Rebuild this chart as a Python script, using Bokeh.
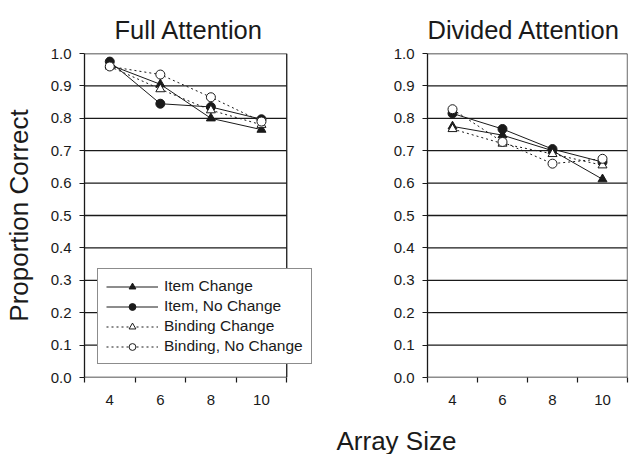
from bokeh.plotting import figure
from bokeh.models import (Range1d, FixedTicker, PrintfTickFormatter, Legend, LegendItem, Label)
from bokeh.layouts import row, column
from bokeh.embed import file_html
from bokeh.resources import INLINE

# ---- data ----
array_sizes = [4, 6, 8, 10]
y_ticks = [0.0, 0.1, 0.2, 0.3, 0.4, 0.5, 0.6, 0.7, 0.8, 0.9, 1.0]

full_item_change = [0.965, 0.905, 0.800, 0.765]
full_item_nochange = [0.975, 0.845, 0.835, 0.797]
full_bind_change = [0.960, 0.890, 0.825, 0.780]
full_bind_nochange = [0.960, 0.935, 0.865, 0.790]

div_item_change = [0.775, 0.748, 0.700, 0.612]
div_item_nochange = [0.815, 0.767, 0.705, 0.665]
div_bind_change = [0.767, 0.722, 0.690, 0.655]
div_bind_nochange = [0.828, 0.727, 0.660, 0.675]

series_labels = ["Item Change", "Item, No Change", "Binding Change", "Binding, No Change"]
titles = ["Full Attention", "Divided Attention"]
x_title = "Array Size"
y_title = "Proportion Correct"

FONT = "Liberation Sans"
INK = "#1a1a1a"

step = array_sizes[1] - array_sizes[0]
bounds = [array_sizes[0] - step / 2] + [s + step / 2 for s in array_sizes]


def make_panel(title, data, width, height, left, right, top, bottom, extra=0,
               title_offset=0, ylabel=None):
    frame_w = width - left - right
    x_end = bounds[0] + (bounds[-1] - bounds[0]) * frame_w / (frame_w - extra)
    p = figure(width=width, height=height, output_backend="svg", toolbar_location=None,
               x_range=Range1d(bounds[0], x_end), y_range=Range1d(0, 1),
               min_border_left=left, min_border_right=right,
               min_border_top=top, min_border_bottom=bottom)
    p.outline_line_color = None
    p.background_fill_color = "white"
    p.border_fill_color = "white"
    p.xgrid.visible = False
    p.ygrid.visible = False

    # horizontal gridlines / box limited to the category span
    p.segment(x0=bounds[0], y0=y_ticks, x1=bounds[-1], y1=y_ticks,
              line_color=INK, line_width=1.3)
    p.segment(x0=[bounds[-1]], y0=[y_ticks[0]], x1=[bounds[-1]], y1=[y_ticks[-1]],
              line_color=INK, line_width=1.3)

    p.xaxis.ticker = FixedTicker(ticks=array_sizes, minor_ticks=bounds)
    p.xaxis.major_tick_out = 0
    p.xaxis.major_tick_in = 0
    p.xaxis.minor_tick_out = 5
    p.xaxis.minor_tick_in = 0
    p.xaxis.minor_tick_line_color = INK
    p.xaxis.minor_tick_line_width = 1.2
    p.xaxis.axis_line_color = None
    p.xaxis.major_label_standoff = 12
    p.xaxis.major_label_text_font = FONT
    p.xaxis.major_label_text_font_size = "15px"
    p.xaxis.major_label_text_color = INK

    p.yaxis.ticker = FixedTicker(ticks=y_ticks)
    p.yaxis.formatter = PrintfTickFormatter(format="%.1f")
    p.yaxis.major_tick_out = 5
    p.yaxis.major_tick_in = 0
    p.yaxis.minor_tick_line_color = None
    p.yaxis.major_tick_line_color = INK
    p.yaxis.major_tick_line_width = 1.2
    p.yaxis.axis_line_color = INK
    p.yaxis.axis_line_width = 1.3
    p.yaxis.major_label_standoff = 8
    p.yaxis.major_label_text_font = FONT
    p.yaxis.major_label_text_font_size = "15px"
    p.yaxis.major_label_text_color = INK
    if ylabel:
        p.yaxis.axis_label = ylabel
        p.yaxis.axis_label_text_font = FONT
        p.yaxis.axis_label_text_font_size = "26px"
        p.yaxis.axis_label_text_font_style = "normal"
        p.yaxis.axis_label_text_color = INK
        p.yaxis.axis_label_standoff = 14

    p.title.text = title
    p.title.align = "left"
    p.title.offset = title_offset
    p.title.text_font = FONT
    p.title.text_font_size = "25.5px"
    p.title.text_font_style = "normal"
    p.title.text_color = INK
    p.title.standoff = 19

    ic, inc, bc, bnc = data
    l1 = p.line(array_sizes, ic, line_color=INK, line_width=1)
    m1 = p.scatter(array_sizes, ic, marker="triangle", size=9, fill_color=INK, line_color=INK)
    l2 = p.line(array_sizes, inc, line_color=INK, line_width=1)
    m2 = p.scatter(array_sizes, inc, marker="circle", size=9, fill_color=INK, line_color=INK)
    l3 = p.line(array_sizes, bc, line_color=INK, line_width=1, line_dash="2 3")
    m3 = p.scatter(array_sizes, bc, marker="triangle", size=9, fill_color="white", line_color=INK)
    l4 = p.line(array_sizes, bnc, line_color=INK, line_width=1, line_dash="2 3")
    m4 = p.scatter(array_sizes, bnc, marker="circle", size=9, fill_color="white", line_color=INK)
    return p, [(l1, m1), (l2, m2), (l3, m3), (l4, m4)]


ROW_H = 420
STRIP_H = 34

p1, r1 = make_panel(titles[0], (full_item_change, full_item_nochange, full_bind_change, full_bind_nochange),
                    width=320, height=ROW_H, left=82, right=6, top=53, bottom=ROW_H - 53 - 324,
                    extra=28, title_offset=30, ylabel=y_title)
p2, r2 = make_panel(titles[1], (div_item_change, div_item_nochange, div_bind_change, div_bind_nochange),
                    width=309, height=ROW_H, left=107, right=2, top=49, bottom=ROW_H - 49 - 328,
                    title_offset=0)

legend = Legend(items=[LegendItem(label=lab, renderers=list(rr)) for lab, rr in zip(series_labels, r1)],
                location=(13, 13))
legend.border_line_color = INK
legend.border_line_width = 1
legend.background_fill_color = "white"
legend.background_fill_alpha = 1
legend.label_text_font = FONT
legend.label_text_font_size = "15.5px"
legend.label_text_color = INK
legend.glyph_width = 52
legend.glyph_height = 17
legend.label_height = 17
legend.spacing = 2
legend.padding = 8
legend.margin = 0
legend.label_standoff = 6
p1.add_layout(legend)

# strip below both panels carrying the shared x-axis title
p3 = figure(width=629, height=STRIP_H, output_backend="svg", toolbar_location=None,
            x_range=Range1d(0, 629), y_range=Range1d(0, STRIP_H),
            x_axis_location=None, y_axis_location=None,
            min_border_left=0, min_border_right=0, min_border_top=0, min_border_bottom=0)
p3.title = None
p3.outline_line_color = None
p3.xgrid.visible = False
p3.ygrid.visible = False
p3.add_layout(Label(x=336, y=STRIP_H, y_offset=-5, text=x_title, text_align="left",
                    text_baseline="top", text_font=FONT, text_font_size="26px", text_color=INK))

layout = column(row(p1, p2), p3)
open("out.html", "w").write(file_html(layout, INLINE))
